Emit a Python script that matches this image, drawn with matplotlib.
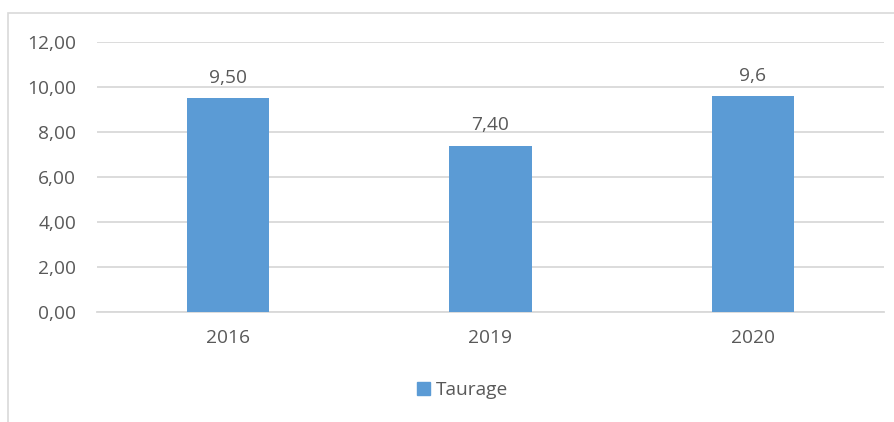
import matplotlib.pyplot as plt
from matplotlib.patches import Rectangle, Patch

# données
annees = ['2016', '2019', '2020']
valeurs = [9.50, 7.40, 9.6]
etiquettes = ['9,50', '7,40', '9,6']
serie = 'Taurage'

plt.rcParams['font.family'] = ['Open Sans', 'DejaVu Sans']
gris_texte = '#595959'
gris_ligne = '#d9d9d9'
bleu = '#5b9bd5'
taille = 13.8

fig = plt.figure(figsize=(8.95, 4.22), dpi=100)
ax = fig.add_axes([97 / 895, 110 / 422, 787 / 895, 270 / 422])

# cadre du graphique (style Excel)
fig.patches.append(Rectangle((8 / 895, -0.1), 1.2, 1.1 - 13 / 422,
                             transform=fig.transFigure, fill=False,
                             edgecolor=gris_ligne, linewidth=1.2))

x = range(len(annees))
barres = ax.bar(x, valeurs, width=0.313, color=bleu, zorder=3)
ax.bar_label(barres, labels=etiquettes, padding=8, fontsize=taille, color=gris_texte)

ax.set_xlim(-0.5, len(annees) - 0.5)
ax.set_ylim(0, 12)
ax.set_yticks(range(0, 13, 2))
ax.set_yticklabels([f'{v:.2f}'.replace('.', ',') for v in range(0, 13, 2)])
ax.set_xticks(list(x))
ax.set_xticklabels(annees)
ax.tick_params(axis='y', length=0, pad=15, labelsize=taille, labelcolor=gris_texte)
ax.tick_params(axis='x', length=0, pad=12, labelsize=taille, labelcolor=gris_texte)

ax.grid(axis='y', color=gris_ligne, linewidth=1.3, zorder=0)
for cote in ['top', 'right', 'left']:
    ax.spines[cote].set_visible(False)
ax.spines['bottom'].set_color(gris_ligne)
ax.spines['bottom'].set_linewidth(1.3)

fig.legend(handles=[Patch(color=bleu, label=serie)], loc='center',
           bbox_to_anchor=(0.517, 0.076), frameon=False, fontsize=taille,
           labelcolor=gris_texte, handlelength=0.7, handleheight=0.7,
           handletextpad=0.3)

fig.savefig('out.png', dpi=100)
